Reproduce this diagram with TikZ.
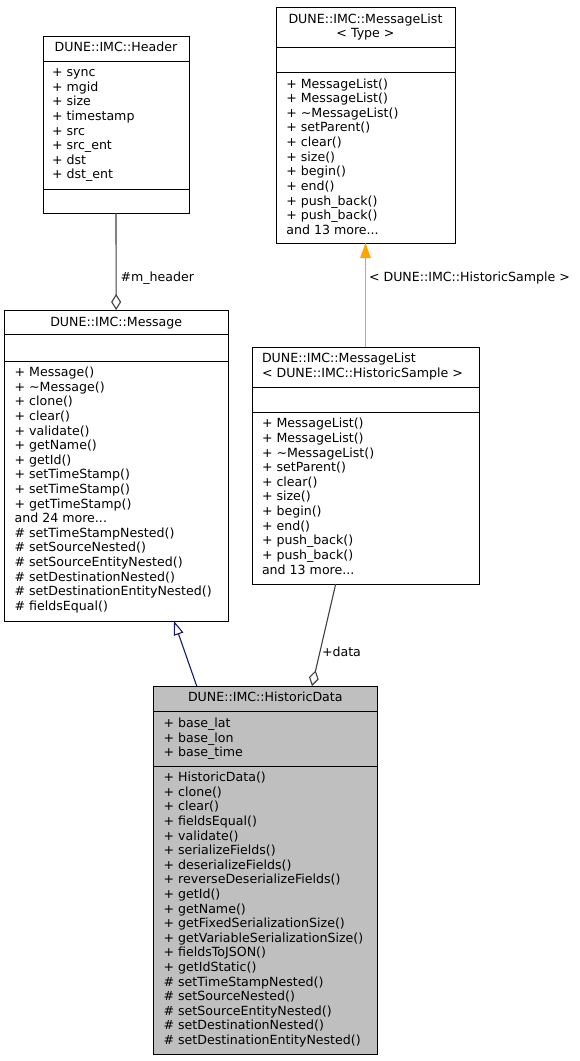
\documentclass[tikz,border=0pt]{standalone}
\usepackage{fontspec}
\setmainfont{DejaVu Sans}
\usetikzlibrary{arrows.meta,calc}
\definecolor{edgegray}{HTML}{404040}
\definecolor{navyblue}{HTML}{191970}
\definecolor{tplorange}{HTML}{FFA500}
\definecolor{hdfill}{HTML}{BFBFBF}
\newcommand\mydots{...}
\begin{document}
\begin{tikzpicture}[x=1pt,y=-1pt,
  umlbox/.style={draw=black, line width=0.9pt, anchor=north west, inner sep=0pt, outer sep=0pt},
  txt/.style={anchor=base west, inner sep=0pt, outer sep=0pt, font=\fontsize{12.6}{14.6}\selectfont},
  ttl/.style={anchor=base, inner sep=0pt, outer sep=0pt, font=\fontsize{12.6}{14.6}\selectfont},
  sepline/.style={draw=black, line width=0.9pt},
  assoc/.style={draw=edgegray, line width=1.1pt, -{Diamond[open, length=16pt, width=10pt]}},
  inherit/.style={draw=navyblue, line width=1.1pt, -{Triangle[open, length=14pt, width=10pt]}},
  tmpl/.style={draw=tplorange, line width=1.1pt, -{Triangle[length=15pt, width=10.5pt, fill=tplorange]}}
]
\fill[white] (0,0) rectangle (580,1061);
\useasboundingbox (0,0) rectangle (580,1061);

% ---------------- Header ----------------
\node[umlbox, minimum width=146pt, minimum height=177pt] (hdr) at (43,36) {};
\draw[sepline] ($(hdr.north west)+(0,25)$) -- ($(hdr.north east)+(0,25)$);
\draw[sepline] ($(hdr.north west)+(0,153)$) -- ($(hdr.north east)+(0,153)$);
\node[ttl] (hdrT) at (116,51) {DUNE::IMC::Header};
\foreach [count=\i] \t in {+ sync, + mgid, + size, + timestamp, + src, + src\_ent, + dst, + dst\_ent}
  \node[txt] (hdrA\i) at (52,76.7+14.6*\i-14.6) {\t};

% ---------------- MessageList<Type> ----------------
\node[umlbox, minimum width=179pt, minimum height=236pt] (mlt) at (276,7) {};
\draw[sepline] ($(mlt.north west)+(0,40)$) -- ($(mlt.north east)+(0,40)$);
\draw[sepline] ($(mlt.north west)+(0,65)$) -- ($(mlt.north east)+(0,65)$);
\node[ttl] (mltT1) at (365.5,23) {DUNE::IMC::MessageList};
\node[ttl] (mltT2) at (365.5,37.6) {< Type >};
\foreach [count=\i] \t in {+ MessageList(), + MessageList(), + \textasciitilde{}MessageList(), + setParent(), + clear(), + size(), + begin(), + end(), + push\_back(), + push\_back(), and 13 more\mydots}
  \node[txt] (mltM\i) at (286.3,88+14.65*\i-14.65) {\t};

% ---------------- Message ----------------
\node[umlbox, minimum width=223.7pt, minimum height=311pt] (msg) at (4.3,310) {};
\draw[sepline] ($(msg.north west)+(0,24)$) -- ($(msg.north east)+(0,24)$);
\draw[sepline] ($(msg.north west)+(0,51)$) -- ($(msg.north east)+(0,51)$);
\node[ttl] (msgT) at (116.2,326) {DUNE::IMC::Message};
\foreach [count=\i] \t in {+ Message(), + \textasciitilde{}Message(), + clone(), + clear(), + validate(), + getName(), + getId(), + setTimeStamp(), + setTimeStamp(), + getTimeStamp(), and 24 more\mydots, \# setTimeStampNested(), \# setSourceNested(), \# setSourceEntityNested(), \# setDestinationNested(), \# setDestinationEntityNested(), \# fieldsEqual()}
  \node[txt] (msgM\i) at (14.6,376.7+14.6*\i-14.6) {\t};

% ---------------- MessageList<HistoricSample> ----------------
\node[umlbox, minimum width=227pt, minimum height=237pt] (mlhs) at (252,347) {};
\draw[sepline] ($(mlhs.north west)+(0,40)$) -- ($(mlhs.north east)+(0,40)$);
\draw[sepline] ($(mlhs.north west)+(0,65)$) -- ($(mlhs.north east)+(0,65)$);
\node[txt] (mlhsT1) at (262,362.8) {DUNE::IMC::MessageList};
\node[txt] (mlhsT2) at (262,377.4) {< DUNE::IMC::HistoricSample >};
\foreach [count=\i] \t in {+ MessageList(), + MessageList(), + \textasciitilde{}MessageList(), + setParent(), + clear(), + size(), + begin(), + end(), + push\_back(), + push\_back(), and 13 more\mydots}
  \node[txt] (mlhsM\i) at (262,427.7+14.65*\i-14.65) {\t};

% ---------------- HistoricData ----------------
\node[umlbox, fill=hdfill, minimum width=224pt, minimum height=368pt] (hd) at (153.3,686) {};
\draw[sepline] ($(hd.north west)+(0,25.7)$) -- ($(hd.north east)+(0,25.7)$);
\draw[sepline] ($(hd.north west)+(0,80)$) -- ($(hd.north east)+(0,80)$);
\node[ttl] (hdT) at (265.3,701.7) {DUNE::IMC::HistoricData};
\foreach [count=\i] \t in {+ base\_lat, + base\_lon, + base\_time}
  \node[txt] (hdA\i) at (163.6,727.4+14.6*\i-14.6) {\t};
\foreach [count=\i] \t in {+ HistoricData(), + clone(), + clear(), + fieldsEqual(), + validate(), + serializeFields(), + deserializeFields(), + reverseDeserializeFields(), + getId(), + getName(), + getFixedSerializationSize(), + getVariableSerializationSize(), + fieldsToJSON(), + getIdStatic(), \# setTimeStampNested(), \# setSourceNested(), \# setSourceEntityNested(), \# setDestinationNested(), \# setDestinationEntityNested()}
  \node[txt] (hdM\i) at (163.6,781.7+14.6*\i-14.6) {\t};

% ---------------- Connectors ----------------
\draw[assoc] (hdr.south) -- (msg.north);
\node[txt] (lblHeader) at (120.5,281.3) {\#m\_header};

\draw[tmpl] (mlhs.north) -- (mlt.south);
\node[txt] (lblTmpl) at (369,281.5) {< DUNE::IMC::HistoricSample >};

\draw[inherit] ($(hd.north west)+(43.4,0)$) -- ($(msg.south west)+(169.7,0)$);

\draw[assoc] ($(mlhs.south west)+(83.7,0)$) -- ($(hd.north west)+(158.7,0)$);
\node[txt] (lblData) at (322,656.5) {+data};
\end{tikzpicture}
\end{document}
